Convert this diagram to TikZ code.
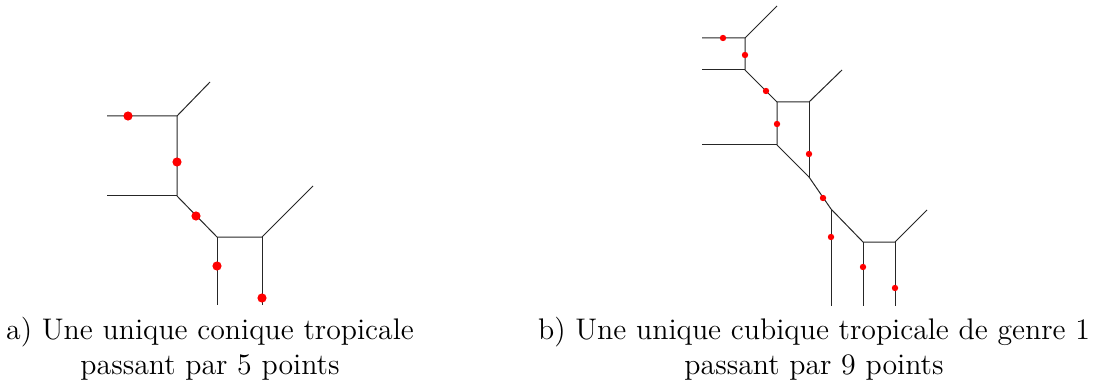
\documentclass[tikz,border=0pt]{standalone}
\usepackage{xcolor}
\usepackage{tikz}

\begin{document}
\begin{tikzpicture}[
  x=0.5pt, y=-0.5pt,
  edge/.style={line width=0.5pt, black!85},
  bigpt/.style={circle, fill=red, inner sep=0pt, minimum size=4.6pt},
  smallpt/.style={circle, fill=red, inner sep=0pt, minimum size=3.2pt},
  caption/.style={align=center, font=\fontsize{14.9}{17.5}\selectfont}
]
\useasboundingbox (0,0) rectangle (1093,385);

% a) conique
\coordinate (A) at (177,116);
\coordinate (B) at (177,196);
\coordinate (C) at (217,237);
\coordinate (D) at (262,237);
\coordinate (A0) at (107,116);
\coordinate (A1) at (210,82);
\coordinate (B0) at (107,196);
\coordinate (C0) at (217,305);
\coordinate (D0) at (262,305);
\coordinate (D1) at (313,186);
\draw[edge] (A0) -- (A) -- (A1);
\draw[edge] (A) -- (B) -- (C) -- (D) -- (D1);
\draw[edge] (B0) -- (B);
\draw[edge] (C) -- (C0);
\draw[edge] (D) -- (D0);
\node[bigpt] (pa1) at (128,116) {};
\node[bigpt] (pa2) at (177,162) {};
\node[bigpt] (pa3) at (196,216) {};
\node[bigpt] (pa4) at (217,266) {};
\node[bigpt] (pa5) at (262,298) {};

% b) cubique
\coordinate (E) at (745,38);
\coordinate (F) at (745,70);
\coordinate (G) at (777,102);
\coordinate (H) at (809,102);
\coordinate (I) at (777,145);
\coordinate (J) at (809,177);
\coordinate (K) at (831,209);
\coordinate (L) at (863,242);
\coordinate (M) at (895,242);
\coordinate (E0) at (702,38);
\coordinate (E1) at (777,6);
\coordinate (F0) at (702,70);
\coordinate (H1) at (842,70);
\coordinate (I0) at (702,145);
\coordinate (K0) at (831,306);
\coordinate (L0) at (863,306);
\coordinate (M0) at (895,306);
\coordinate (M1) at (927,210);
\draw[edge] (E0) -- (E) -- (E1);
\draw[edge] (E) -- (F) -- (G) -- (H) -- (H1);
\draw[edge] (F0) -- (F);
\draw[edge] (G) -- (I) -- (J) -- (K) -- (L) -- (M) -- (M1);
\draw[edge] (I0) -- (I);
\draw[edge] (H) -- (J);
\draw[edge] (K) -- (K0);
\draw[edge] (L) -- (L0);
\draw[edge] (M) -- (M0);
\foreach \px/\py [count=\i] in {723/38, 745/55, 766/91, 777/124, 809/154,
    823/198, 831/237, 863/267, 895/288}
  \node[smallpt] (pb\i) at (\px,\py) {};

\node[caption] (capa) at (210,349) {a) Une unique conique tropicale\\passant par 5 points};
\node[caption] (capb) at (814,349) {b) Une unique cubique tropicale de genre 1\\passant par 9 points};
\end{tikzpicture}
\end{document}
